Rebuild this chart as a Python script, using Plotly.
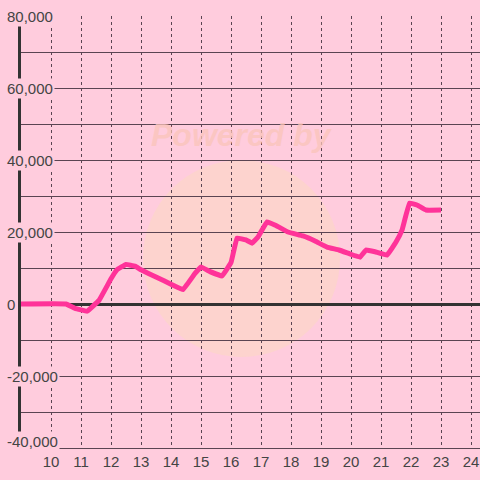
import plotly.graph_objects as go

months = [9.0, 10.5, 10.8, 11.2, 11.6, 12.0, 12.2, 12.5, 12.8, 13.0, 13.5, 14.0, 14.4, 14.8, 15.0,
          15.3, 15.7, 16.0, 16.2, 16.5, 16.7, 16.9, 17.2, 17.5, 17.9, 18.4, 18.8, 19.2, 19.6, 20.0,
          20.3, 20.5, 20.8, 21.2, 21.5, 21.7, 21.95, 22.2, 22.5, 23.0]
values = [0, 0, -1200, -2000, 1000, 7000, 9500, 11000, 10500, 9500, 7500, 5500, 4000, 8500, 10300,
          9000, 7800, 11500, 18300, 17800, 16900, 18600, 22800, 21800, 20000, 18900, 17500, 15800, 15000, 13800,
          13000, 15000, 14500, 13600, 17200, 20500, 28000, 27500, 26100, 26100]

x_ticks = list(range(10, 25))
y_label_vals = [80000, 60000, 40000, 20000, 0, -20000, -40000]
y_label_text = ["80,000", "60,000", "40,000", "20,000", "0", "-20,000", "-40,000"]

BG = "#FFCCDD"
GRID = "#5a4452"
TXT = "#444444"

fig = go.Figure()
fig.add_trace(go.Scatter(x=months, y=values, mode="lines",
                         line=dict(color="#FF3399", width=5, shape="spline", smoothing=0.2),
                         hoverinfo="skip", showlegend=False))

# watermark
fig.add_shape(type="circle", xref="paper", yref="paper",
              x0=(143 - 21) / 459, x1=(340 - 21) / 459,
              y0=(448 - 357) / 432, y1=(448 - 160) / 432,
              fillcolor="rgba(252,214,200,0.75)", line=dict(width=0), layer="below")
fig.add_annotation(xref="paper", yref="paper", x=(242 - 21) / 459, y=(448 - 135) / 432,
                   xanchor="center", yanchor="middle",
                   text="<b><i>Powered by</i></b>", showarrow=False,
                   font=dict(size=32, color="rgba(250,196,186,0.75)", family="Liberation Sans"))

for v, t in zip(y_label_vals, y_label_text):
    fig.add_annotation(xref="paper", yref="y", x=(5 - 21) / 459, y=v, text=t,
                       xanchor="left", yanchor="middle",
                       yshift=7 if v == min(y_label_vals) else 0,
                       showarrow=False, bgcolor=BG, borderpad=1,
                       font=dict(size=15, color=TXT, family="Liberation Sans"))

fig.update_layout(
    width=480, height=480,
    margin=dict(l=21, r=0, t=16, b=32),
    paper_bgcolor=BG, plot_bgcolor=BG,
    xaxis=dict(range=[9, 24.3], tickvals=x_ticks, ticktext=[str(v) for v in x_ticks],
               showgrid=True, gridcolor=GRID, gridwidth=1, griddash="dot",
               zeroline=False, showline=True, linecolor=GRID, linewidth=1,
               ticks="", tickfont=dict(size=15, color=TXT, family="Liberation Sans"), fixedrange=True),
    yaxis=dict(range=[-40000, 80000], dtick=10000, tick0=0, showticklabels=False,
               showgrid=True, gridcolor=GRID, gridwidth=1,
               zeroline=True, zerolinecolor="#333333", zerolinewidth=3,
               showline=True, linecolor="#333333", linewidth=3, ticks="", fixedrange=True),
)

fig.write_html("out.html", config={"displayModeBar": False},
               post_script="document.body.style.margin='0';document.body.style.overflow='hidden';"
                           "document.body.style.background='#FFCCDD';")
